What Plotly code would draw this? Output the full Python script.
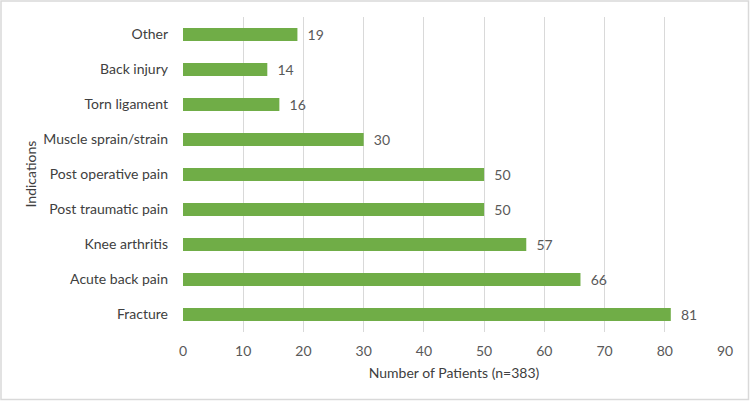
import plotly.graph_objects as go

# bottom-to-top order as drawn
indications = ["Fracture", "Acute back pain", "Knee arthritis", "Post traumatic pain",
               "Post operative pain", "Muscle sprain/strain", "Torn ligament",
               "Back injury", "Other"]
patients = [81, 66, 57, 50, 50, 30, 16, 14, 19]
x_ticks = [0, 10, 20, 30, 40, 50, 60, 70, 80, 90]

W, H = 750, 401
ML, MR, MT, MB = 183, 25, 17, 69
PW, PH = W - ML - MR, H - MT - MB

FONT = "Lato, Open Sans, sans-serif"

fig = go.Figure(go.Bar(
    x=patients, y=indications, orientation="h",
    marker=dict(color="#70ad47", line=dict(width=0)),
    text=patients, texttemplate="  %{text}", textposition="outside",
    constraintext="none",
    textfont=dict(color="#595959", size=14, family=FONT),
    cliponaxis=False,
))

fig.update_layout(
    width=W, height=H,
    margin=dict(l=ML, r=MR, t=MT, b=MB, autoexpand=False),
    paper_bgcolor="white", plot_bgcolor="white",
    bargap=0.63, showlegend=False,
    font=dict(family=FONT, color="#404040", size=14),
    xaxis=dict(range=[0, 90], tickvals=x_ticks, showgrid=True, gridcolor="#d9d9d9",
               gridwidth=1, zeroline=False, showline=False, ticks="",
               tickfont=dict(color="#595959", size=14), ticklabelstandoff=9,
               title=dict(text="Number of Patients (n=383)", standoff=10,
                          font=dict(color="#404040", size=14))),
    yaxis=dict(showgrid=False, zeroline=False, showline=False, ticks="",
               tickfont=dict(color="#404040", size=14), ticklabelstandoff=14),
    annotations=[dict(text="Indications", textangle=-90, xref="paper", yref="paper",
                      x=-(ML - 30) / PW, xanchor="center", y=0.5, showarrow=False,
                      font=dict(color="#404040", size=14))],
    shapes=[dict(type="rect", xref="paper", yref="paper",
                 x0=-(ML - 1) / PW, x1=1 + (MR - 1.5) / PW,
                 y0=-(MB - 1.5) / PH, y1=1 + (MT - 1) / PH,
                 line=dict(color="#d9d9d9", width=1.5))],
)

fig.write_html("out.html", config={"displayModeBar": False},
               post_script="document.body.style.margin='0';")
